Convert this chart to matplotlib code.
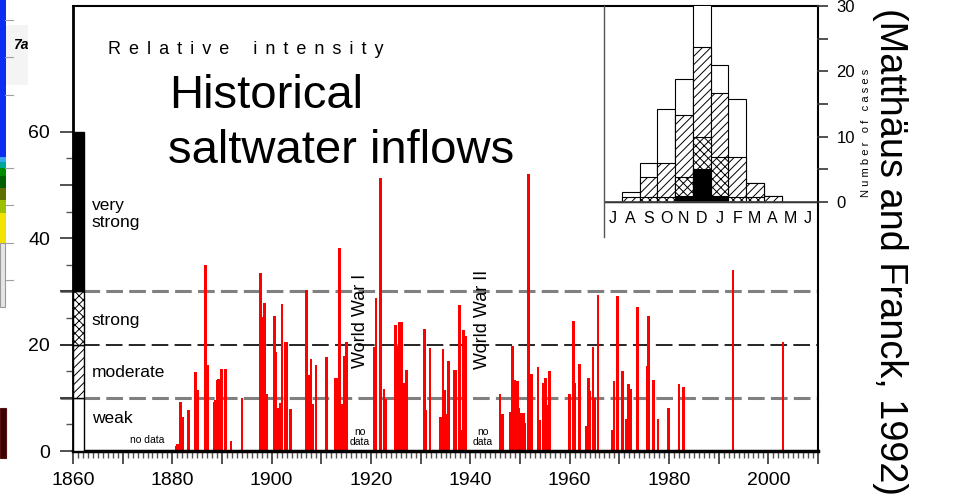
import numpy as np
import matplotlib
matplotlib.use('Agg')
import matplotlib.pyplot as plt
from matplotlib.patches import Rectangle
from matplotlib.ticker import MultipleLocator, FixedLocator, FuncFormatter
from matplotlib.lines import Line2D

plt.rcParams['font.family'] = ['Liberation Sans', 'DejaVu Sans']
plt.rcParams['hatch.linewidth'] = 0.7
plt.rcParams['lines.scale_dashes'] = False

W, H = 959, 500

# inflow events: decimal year and relative intensity
inflow_year = [1880.8, 1881.1, 1881.7, 1882.0, 1883.2, 1884.7, 1885.1, 1886.7, 1887.2, 1888.4,
               1888.6, 1889.0, 1889.3, 1889.9, 1890.7, 1891.8, 1894.0, 1897.7, 1898.1, 1898.6,
               1898.9, 1900.5, 1900.85, 1901.4, 1901.7, 1902.1, 1902.8, 1903.1, 1903.8, 1907.0,
               1907.6, 1907.9, 1908.2, 1908.9, 1911.0, 1912.85, 1913.15, 1913.7, 1914.0, 1914.6,
               1915.0, 1920.7, 1921.0, 1921.9, 1922.6, 1923.0, 1924.9, 1925.3, 1925.7, 1926.1,
               1926.5, 1927.2, 1930.7, 1931.0, 1931.9, 1934.0, 1934.5, 1934.8, 1935.2, 1935.6,
               1936.75, 1937.05, 1937.85, 1938.1, 1938.65, 1939.15, 1946.0, 1946.45, 1948.1, 1948.5,
               1948.9, 1949.5, 1949.8, 1950.3, 1950.7, 1951.0, 1951.75, 1952.3, 1953.6, 1954.0,
               1954.7, 1955.1, 1955.4, 1955.9, 1959.9, 1960.7, 1961.1, 1962.0, 1963.4, 1963.8,
               1964.1, 1964.7, 1965.1, 1965.7, 1968.5, 1968.9, 1969.7, 1970.6, 1971.5, 1971.9,
               1972.3, 1973.6, 1975.6, 1975.9, 1976.9, 1977.8, 1979.9, 1982.0, 1982.85, 1992.9,
               2002.95]
inflow_intensity = [1.0, 1.3, 9.2, 6.4, 7.8, 14.8, 11.5, 35.0, 16.1, 9.3,
                    9.5, 13.4, 13.5, 15.5, 15.4, 1.8, 10.0, 33.5, 25.1, 27.9,
                    10.8, 25.4, 18.6, 8.0, 9.0, 27.6, 20.4, 20.5, 7.9, 30.3,
                    14.3, 17.2, 8.9, 16.2, 17.6, 13.7, 13.8, 38.2, 8.9, 17.9,
                    20.4, 19.5, 28.8, 51.3, 11.6, 9.7, 23.7, 19.7, 24.2, 24.3,
                    12.8, 15.2, 22.9, 7.8, 19.4, 6.4, 19.1, 11.5, 6.9, 17.0,
                    15.3, 15.3, 27.5, 3.9, 22.7, 21.6, 10.8, 6.9, 7.3, 19.8,
                    13.3, 13.2, 8.0, 7.2, 7.2, 5.2, 52.0, 14.4, 15.8, 5.8,
                    12.8, 13.7, 8.6, 15.0, 10.7, 24.5, 12.7, 16.4, 4.7, 13.7,
                    11.3, 19.6, 10.0, 29.4, 3.9, 13.1, 29.2, 15.0, 6.1, 12.6,
                    11.7, 27.1, 15.9, 25.4, 13.4, 6.1, 8.1, 12.6, 12.0, 34.0,
                    20.4]

# seasonal distribution, July .. June (cumulative by class)
months = ['J', 'A', 'S', 'O', 'N', 'D', 'J', 'F', 'M', 'A', 'M', 'J']
cases_all = [0, 1.5, 6.0, 14.2, 18.9, 33.0, 20.9, 15.7, 2.9, 0.9, 0, 0]
cases_moderate = [0, 0.8, 3.9, 6.0, 13.3, 23.7, 16.7, 6.9, 2.9, 0.9, 0, 0]
cases_strong = [0, 0, 0.8, 0.8, 3.9, 10.0, 6.9, 0.8, 0.8, 0, 0, 0]
cases_very_strong = [0, 0, 0, 0, 0.9, 5.0, 0.9, 0, 0, 0, 0, 0]

# intensity classes
class_names = ['weak', 'moderate', 'strong', 'very\nstrong']
class_lower = [0, 10, 20, 30]
class_upper = [10, 20, 30, 60]
class_label_y = [6.2, 14.7, 24.6, 44.5]
class_hatch = [None, '////', 'xxxx', None]
class_face = ['white', 'white', 'white', 'black']


def fx(px):
    return px / W


def fy(py):
    return 1 - py / H


def spaced(word_list):
    # letter-spaced caption text
    gap = ' \u2006'
    return (gap * 3).join(gap.join(w) for w in word_list)


fig = plt.figure(figsize=(W / 100, H / 100), dpi=100)

# bits of the neighbouring graphic at the left edge
strip = [(0, 157, '#0b2df2'), (157, 162, '#3aa6f0'), (162, 168, '#00a89a'),
         (168, 176, '#008c00'), (176, 188, '#005f00'), (188, 200, '#5f7000'),
         (200, 213, '#9cc000'), (213, 243, '#f2e200')]
fig.patches.append(Rectangle((fx(6), fy(85)), fx(22), 60 / H, transform=fig.transFigure,
                             facecolor='#f4f4f4', edgecolor='none'))
for y0, y1, c in strip:
    fig.patches.append(Rectangle((0, fy(y1)), fx(6), (y1 - y0) / H, transform=fig.transFigure,
                                 facecolor=c, edgecolor='none'))
fig.patches.append(Rectangle((0, fy(307)), fx(5), 64 / H, transform=fig.transFigure,
                             facecolor='#e6e6e6', edgecolor='#9a9a9a', lw=0.8))
fig.patches.append(Rectangle((0, fy(458)), fx(6), 50 / H, transform=fig.transFigure,
                             facecolor='#3a0404', edgecolor='#5a1010', lw=0.8))
for ty in [20, 57, 95, 168, 205, 243, 280]:
    fig.lines.append(Line2D([fx(5), fx(13)], [fy(ty), fy(ty)], transform=fig.transFigure,
                            color='#a0a0a0', lw=0.8))
fig.text(fx(13), fy(45), '7a', fontsize=10, fontstyle='italic', fontweight='bold',
         va='center', ha='left')

# main time series
ax = fig.add_axes([fx(73), fy(451), fx(818) - fx(73), fy(6) - fy(451)])
ax.set_xlim(1860, 2010)
ax.set_ylim(0, 445 / 5.32)

ax.bar(inflow_year, inflow_intensity, width=0.55, color='#ff0000', linewidth=0, zorder=2)

# class boundaries
for lvl, col, lw in [(10, '#808080', 2.2), (20, 'black', 1.2), (30, '#808080', 2.2)]:
    ax.plot([1857.4, 2010], [lvl, lvl], color=col, lw=lw, dashes=(12, 4.5),
            clip_on=False, zorder=1)

# intensity scale at the left
for lo, hi, face, hatch in zip(class_lower, class_upper, class_face, class_hatch):
    ax.bar(1860, hi - lo, bottom=lo, width=2.2, align='edge', facecolor=face,
           hatch=hatch, edgecolor='black', lw=1.0, zorder=3, clip_on=False)
for name, y in zip(class_names, class_label_y):
    ax.text(1863.8, y, name, fontsize=12.5, va='center', ha='left', linespacing=1.15)

ax.text(1874.9, 2.1, 'no data', fontsize=7.5, ha='center', va='center')
ax.text(1917.7, 2.7, 'no\ndata', fontsize=7.5, ha='center', va='center', linespacing=1.0)
ax.text(1942.5, 2.7, 'no\ndata', fontsize=7.5, ha='center', va='center', linespacing=1.0)
ax.text(1917.8, 24.4, 'World War I', rotation=90, fontsize=13, ha='center', va='center')
ax.text(1942.4, 24.8, 'World War II', rotation=90, fontsize=13, ha='center', va='center')

ax.xaxis.set_major_locator(MultipleLocator(10))
ax.xaxis.set_minor_locator(MultipleLocator(1))
ax.xaxis.set_major_formatter(FuncFormatter(lambda v, p: '%d' % v if int(round(v)) % 20 == 0 and v < 2005 else ''))
ax.yaxis.set_major_locator(FixedLocator([0, 10, 20, 30, 40, 50, 60]))
ax.yaxis.set_minor_locator(FixedLocator([5, 15, 25, 35, 45, 55]))
ax.yaxis.set_major_formatter(FuncFormatter(lambda v, p: '%d' % v if int(round(v)) % 20 == 0 else ''))
ax.tick_params(axis='x', which='major', length=9, width=1.2, color='#333333', labelsize=14, pad=6)
ax.tick_params(axis='x', which='minor', length=5, width=1.0, color='#555555')
ax.tick_params(axis='y', which='major', length=9.5, width=1.2, color='#333333', labelsize=14, pad=7)
ax.tick_params(axis='y', which='minor', length=5, width=1.0, color='#555555')
ax.spines['left'].set_linewidth(2.0)
ax.spines['bottom'].set_linewidth(2.5)
ax.spines['top'].set_linewidth(1.5)
ax.spines['right'].set_linewidth(1.5)

# seasonal histogram
ins = fig.add_axes([fx(604), fy(237), fx(817) - fx(604), fy(6) - fy(237)])
ins.patch.set_visible(False)
ins.set_xlim(0, 12)
ins.set_ylim(-35 / 196 * 30, 30)
xm = np.arange(12) + 0.5
ins.bar(xm, cases_all, width=1, facecolor='white', edgecolor='black', lw=0.8)
ins.bar(xm, cases_moderate, width=1, facecolor='white', edgecolor='black', hatch='////', lw=0.8)
ins.bar(xm, cases_strong, width=1, facecolor='white', edgecolor='black', hatch='xxxx', lw=0.8)
ins.bar(xm, cases_very_strong, width=1, facecolor='black', edgecolor='black', lw=0.8)
ins.axhline(0, color='#444444', lw=1.2)
for xi, m in zip(xm, months):
    ins.text(xi, -2.45, m, fontsize=11.5, ha='center', va='center')
for s in ['top', 'bottom', 'right']:
    ins.spines[s].set_visible(False)
ins.spines['left'].set_color('#555555')
ins.spines['left'].set_linewidth(1.0)
ins.set_xticks([])
ins.yaxis.tick_right()
ins.yaxis.set_major_locator(FixedLocator([0, 10, 20, 30]))
ins.yaxis.set_minor_locator(FixedLocator([5, 15, 25]))
ins.tick_params(axis='y', which='both', length=8, width=1.2, color='#333333', labelsize=12, pad=6)

fig.text(fx(866), fy(133), 'N u m b e r   o f   c a s e s', rotation=90, fontsize=8,
         ha='center', va='center')

# headings
fig.text(fx(108), fy(49), spaced(['Relative', 'intensity']), fontsize=13,
         ha='left', va='center')
fig.text(fx(169), fy(108), 'Historical', fontsize=34, ha='left', va='baseline')
fig.text(fx(168), fy(163), 'saltwater inflows', fontsize=34, ha='left', va='baseline')
fig.text(fx(890), fy(252), '(Matthäus and Franck, 1992)', rotation=-90, fontsize=27.3,
         ha='center', va='center')

fig.savefig('out.png', dpi=100)
